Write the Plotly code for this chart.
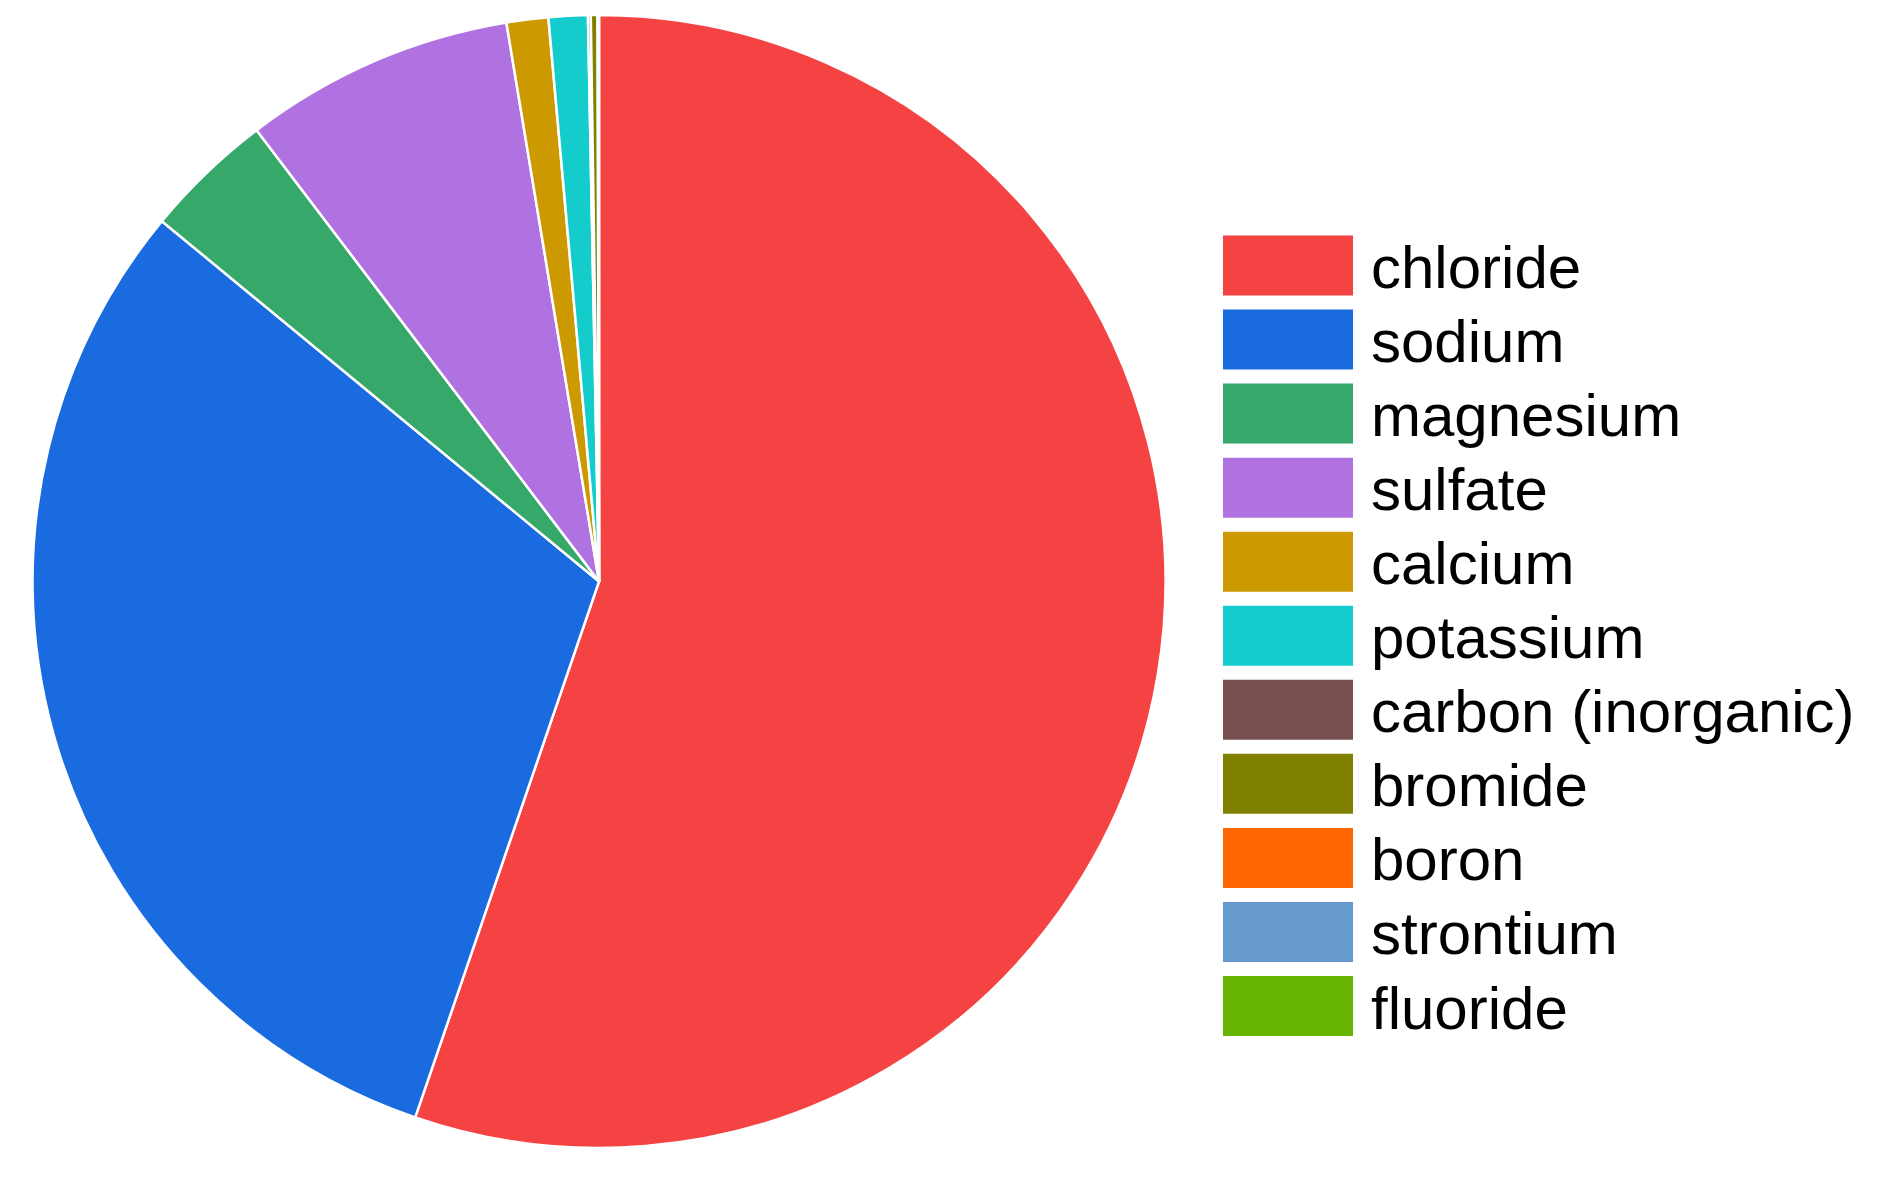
import plotly.graph_objects as go

# dissolved constituents of seawater (mg/kg)
labels = ["chloride", "sodium", "magnesium", "sulfate", "calcium", "potassium",
          "carbon (inorganic)", "bromide", "boron", "strontium", "fluoride"]
values = [19345, 10752, 1295, 2701, 416, 390, 28, 67, 4.6, 8, 1.3]
colors = ["#f54242", "#1a6be0", "#35a86a", "#b072e0", "#cc9900", "#14cccc",
          "#7a4f4f", "#7f8000", "#ff6600", "#6699cc", "#66b300"]

W, H = 1884, 1182
OFF = 8  # page body margin

fig = go.Figure()

fig.add_trace(go.Pie(
    labels=labels, values=values,
    sort=False, direction="clockwise", rotation=0,
    marker=dict(colors=colors, line=dict(color="white", width=2.5)),
    textinfo="none", showlegend=False,
    domain=dict(x=[(32 - OFF) / W, (1166 - OFF) / W],
                y=[1 - (1148 - OFF) / H, 1 - (15 - OFF) / H]),
))

# hand-drawn legend with big swatches
shapes, annotations = [], []
for i, (lab, col) in enumerate(zip(labels, colors)):
    cy = 265.5 + 74.05 * i - OFF
    shapes.append(dict(
        type="rect", xref="paper", yref="paper",
        x0=(1223 - OFF) / W, x1=(1353 - OFF) / W,
        y0=1 - (cy + 30) / H, y1=1 - (cy - 30) / H,
        fillcolor=col, line=dict(width=0),
    ))
    annotations.append(dict(
        text=lab, xref="paper", yref="paper",
        x=(1369 - OFF) / W, y=1 - (cy + 2) / H,
        xanchor="left", yanchor="middle", showarrow=False,
        font=dict(family="Liberation Sans, Arial", size=60, color="black"),
    ))

fig.update_layout(
    width=W, height=H,
    margin=dict(l=0, r=0, t=0, b=0),
    paper_bgcolor="white", plot_bgcolor="white",
    shapes=shapes, annotations=annotations,
)

fig.write_html("out.html")
